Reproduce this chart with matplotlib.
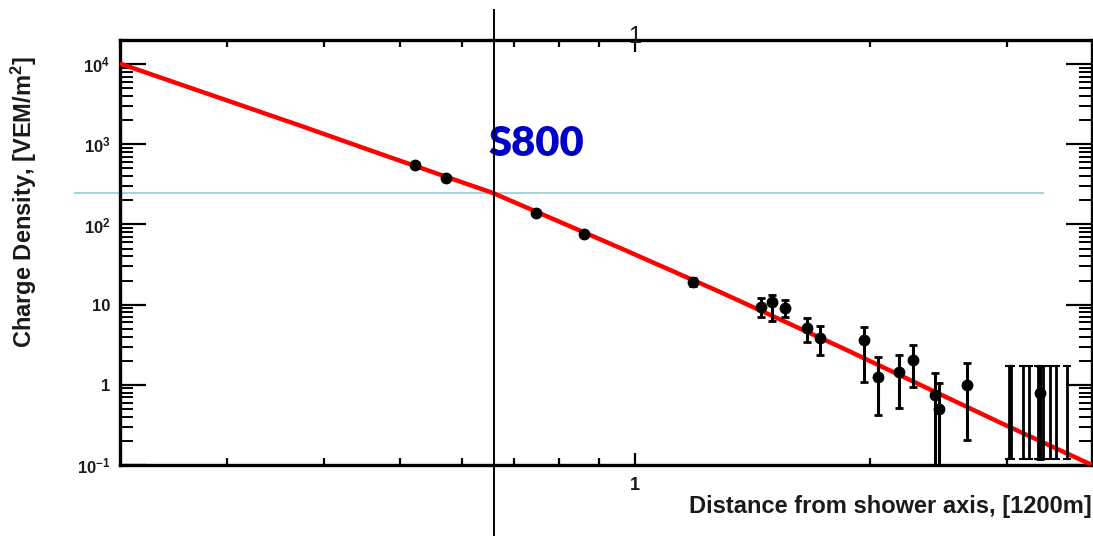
import matplotlib
matplotlib.use("Agg")
import matplotlib.pyplot as plt
from matplotlib.ticker import LogLocator, FixedLocator, FixedFormatter, NullFormatter
import numpy as np

# ---------------- data ----------------
# fitted lateral distribution function
fit_x = [0.22, 0.372, 0.471, 0.658, 0.957, 1.285, 1.83, 2.94, 3.85]
fit_y = [1.0e4, 1720, 765, 247, 51, 14.4, 2.98, 0.336, 0.1]

# station signals with error bars (lower / upper bound)
pts_x = [0.522, 0.573, 0.747, 0.860, 1.187, 1.45, 1.50, 1.556, 1.66, 1.726,
         1.966, 2.05, 2.18, 2.27, 2.42, 2.45, 2.665, 3.30]
pts_y = [551, 380, 139, 76, 19.2, 9.4, 10.8, 9.1, 5.13, 3.85,
         3.64, 1.26, 1.45, 2.05, 0.75, 0.50, 1.0, 0.79]
pts_lo = [515, 355, 129, 70.5, 17.3, 7.03, 6.27, 7.0, 3.43, 2.36,
          1.09, 0.42, 0.52, 0.94, 0.05, 0.05, 0.206, 0.12]
pts_hi = [590, 405, 150, 82, 21.3, 12.1, 13.2, 11.5, 6.84, 5.43,
          5.28, 2.23, 2.37, 3.15, 1.41, 1.06, 1.88, 1.72]

# silent / saturated stations drawn as bare error bars
bar_x = [3.01, 3.03, 3.14, 3.20, 3.28, 3.33, 3.40, 3.46, 3.58]
bar_lo = [0.12] * len(bar_x)
bar_hi = [1.72] * len(bar_x)

r800 = 0.66      # 800 m in units of 1200 m
s800 = 247       # S800 value

y_ticks = [1e-1, 1, 10, 1e2, 1e3, 1e4]
y_ticklabels = ['$10^{-1}$', '1', '10', '$10^{2}$', '$10^{3}$', '$10^{4}$']
x_ticks = [1]
x_ticklabels = ['1']

# ---------------- style ----------------
plt.rcParams['font.family'] = ['Liberation Sans', 'DejaVu Sans']
plt.rcParams['font.weight'] = 'bold'
plt.rcParams['mathtext.fontset'] = 'custom'
plt.rcParams['mathtext.rm'] = 'Liberation Sans:bold'
plt.rcParams['mathtext.bf'] = 'Liberation Sans:bold'
plt.rcParams['mathtext.it'] = 'Liberation Sans:bold'
plt.rcParams['mathtext.default'] = 'bf'

W, H = 1093, 539
fig = plt.figure(figsize=(W / 100, H / 100), dpi=100)
L, R, T, B = 120, 1092, 40, 465
ax = fig.add_axes([L / W, (H - B) / H, (R - L) / W, (B - T) / H])

ax.set_xscale('log')
ax.set_yscale('log')
ax.set_xlim(0.219, 3.85)
ax.set_ylim(0.1, 2.0e4)

txt_col = '#1a1a1a'

# fit line
ax.plot(fit_x, fit_y, color='#ff0000', lw=3.2, zorder=3, solid_capstyle='round')

# data points
y = np.array(pts_y)
yerr = [y - np.array(pts_lo), np.array(pts_hi) - y]
ax.errorbar(pts_x, pts_y, yerr=yerr, fmt='o', color='black', ms=7.5,
            elinewidth=2.2, capsize=3, capthick=2, zorder=4)

by = np.sqrt(np.array(bar_lo) * np.array(bar_hi))
byerr = [by - np.array(bar_lo), np.array(bar_hi) - by]
ax.errorbar(bar_x, by, yerr=byerr, fmt='none', ecolor='black',
            elinewidth=2.0, capsize=3, capthick=1.5, zorder=4)

# S800 guide lines (extend outside the frame)
ax.plot([-0.046, 0.95], [s800, s800], transform=ax.get_yaxis_transform(),
        clip_on=False, color='#a3d5dd', lw=1.4, zorder=2)
ax.plot([r800, r800], [-0.165, 1.07], transform=ax.get_xaxis_transform(),
        clip_on=False, color='black', lw=1.4, zorder=5)

ax.text(0.428, 0.755, 'S800', transform=ax.transAxes, ha='center', va='center',
        fontsize=30, fontweight='heavy', color='#0000c8', family=['Lato', 'DejaVu Sans'])

# ticks
ax.yaxis.set_major_locator(FixedLocator(y_ticks))
ax.yaxis.set_major_formatter(FixedFormatter(y_ticklabels))
ax.yaxis.set_minor_locator(LogLocator(base=10, subs=np.arange(2, 10), numticks=20))
ax.yaxis.set_minor_formatter(NullFormatter())
ax.xaxis.set_major_locator(FixedLocator(x_ticks))
ax.xaxis.set_major_formatter(FixedFormatter(x_ticklabels))
ax.xaxis.set_minor_locator(LogLocator(base=10, subs=np.arange(2, 10), numticks=20))
ax.xaxis.set_minor_formatter(NullFormatter())

ax.tick_params(axis='both', which='both', direction='in', top=True, right=True,
               colors='black', labelcolor=txt_col)
ax.tick_params(axis='y', which='major', length=19, width=1.6, labelsize=12, pad=7)
ax.tick_params(axis='y', which='minor', length=9.5, width=1.4)
ax.tick_params(axis='x', which='major', length=8.5, width=1.6, labelsize=13, pad=9)
ax.tick_params(axis='x', which='minor', length=5, width=1.6)

for s in ax.spines.values():
    s.set_linewidth(2.4)

# top "1" label
ax.text(1.0, (B - 37) / (B - T), '1', transform=ax.get_xaxis_transform(),
        ha='center', va='center', fontsize=17, fontweight='normal', color=txt_col,
        clip_on=False)

# axis titles
ax.text(1.0, (B - 507) / (B - T), 'Distance from shower axis, [1200m]',
        transform=ax.transAxes, ha='right', va='center', fontsize=17,
        fontweight='bold', color=txt_col)
ax.text((24 - L) / (R - L), (B - 202) / (B - T), 'Charge Density, [VEM/m$^{2}$]',
        transform=ax.transAxes, ha='center', va='center', rotation=90,
        fontsize=17, fontweight='bold', color=txt_col)

fig.savefig('out.png', dpi=100)
